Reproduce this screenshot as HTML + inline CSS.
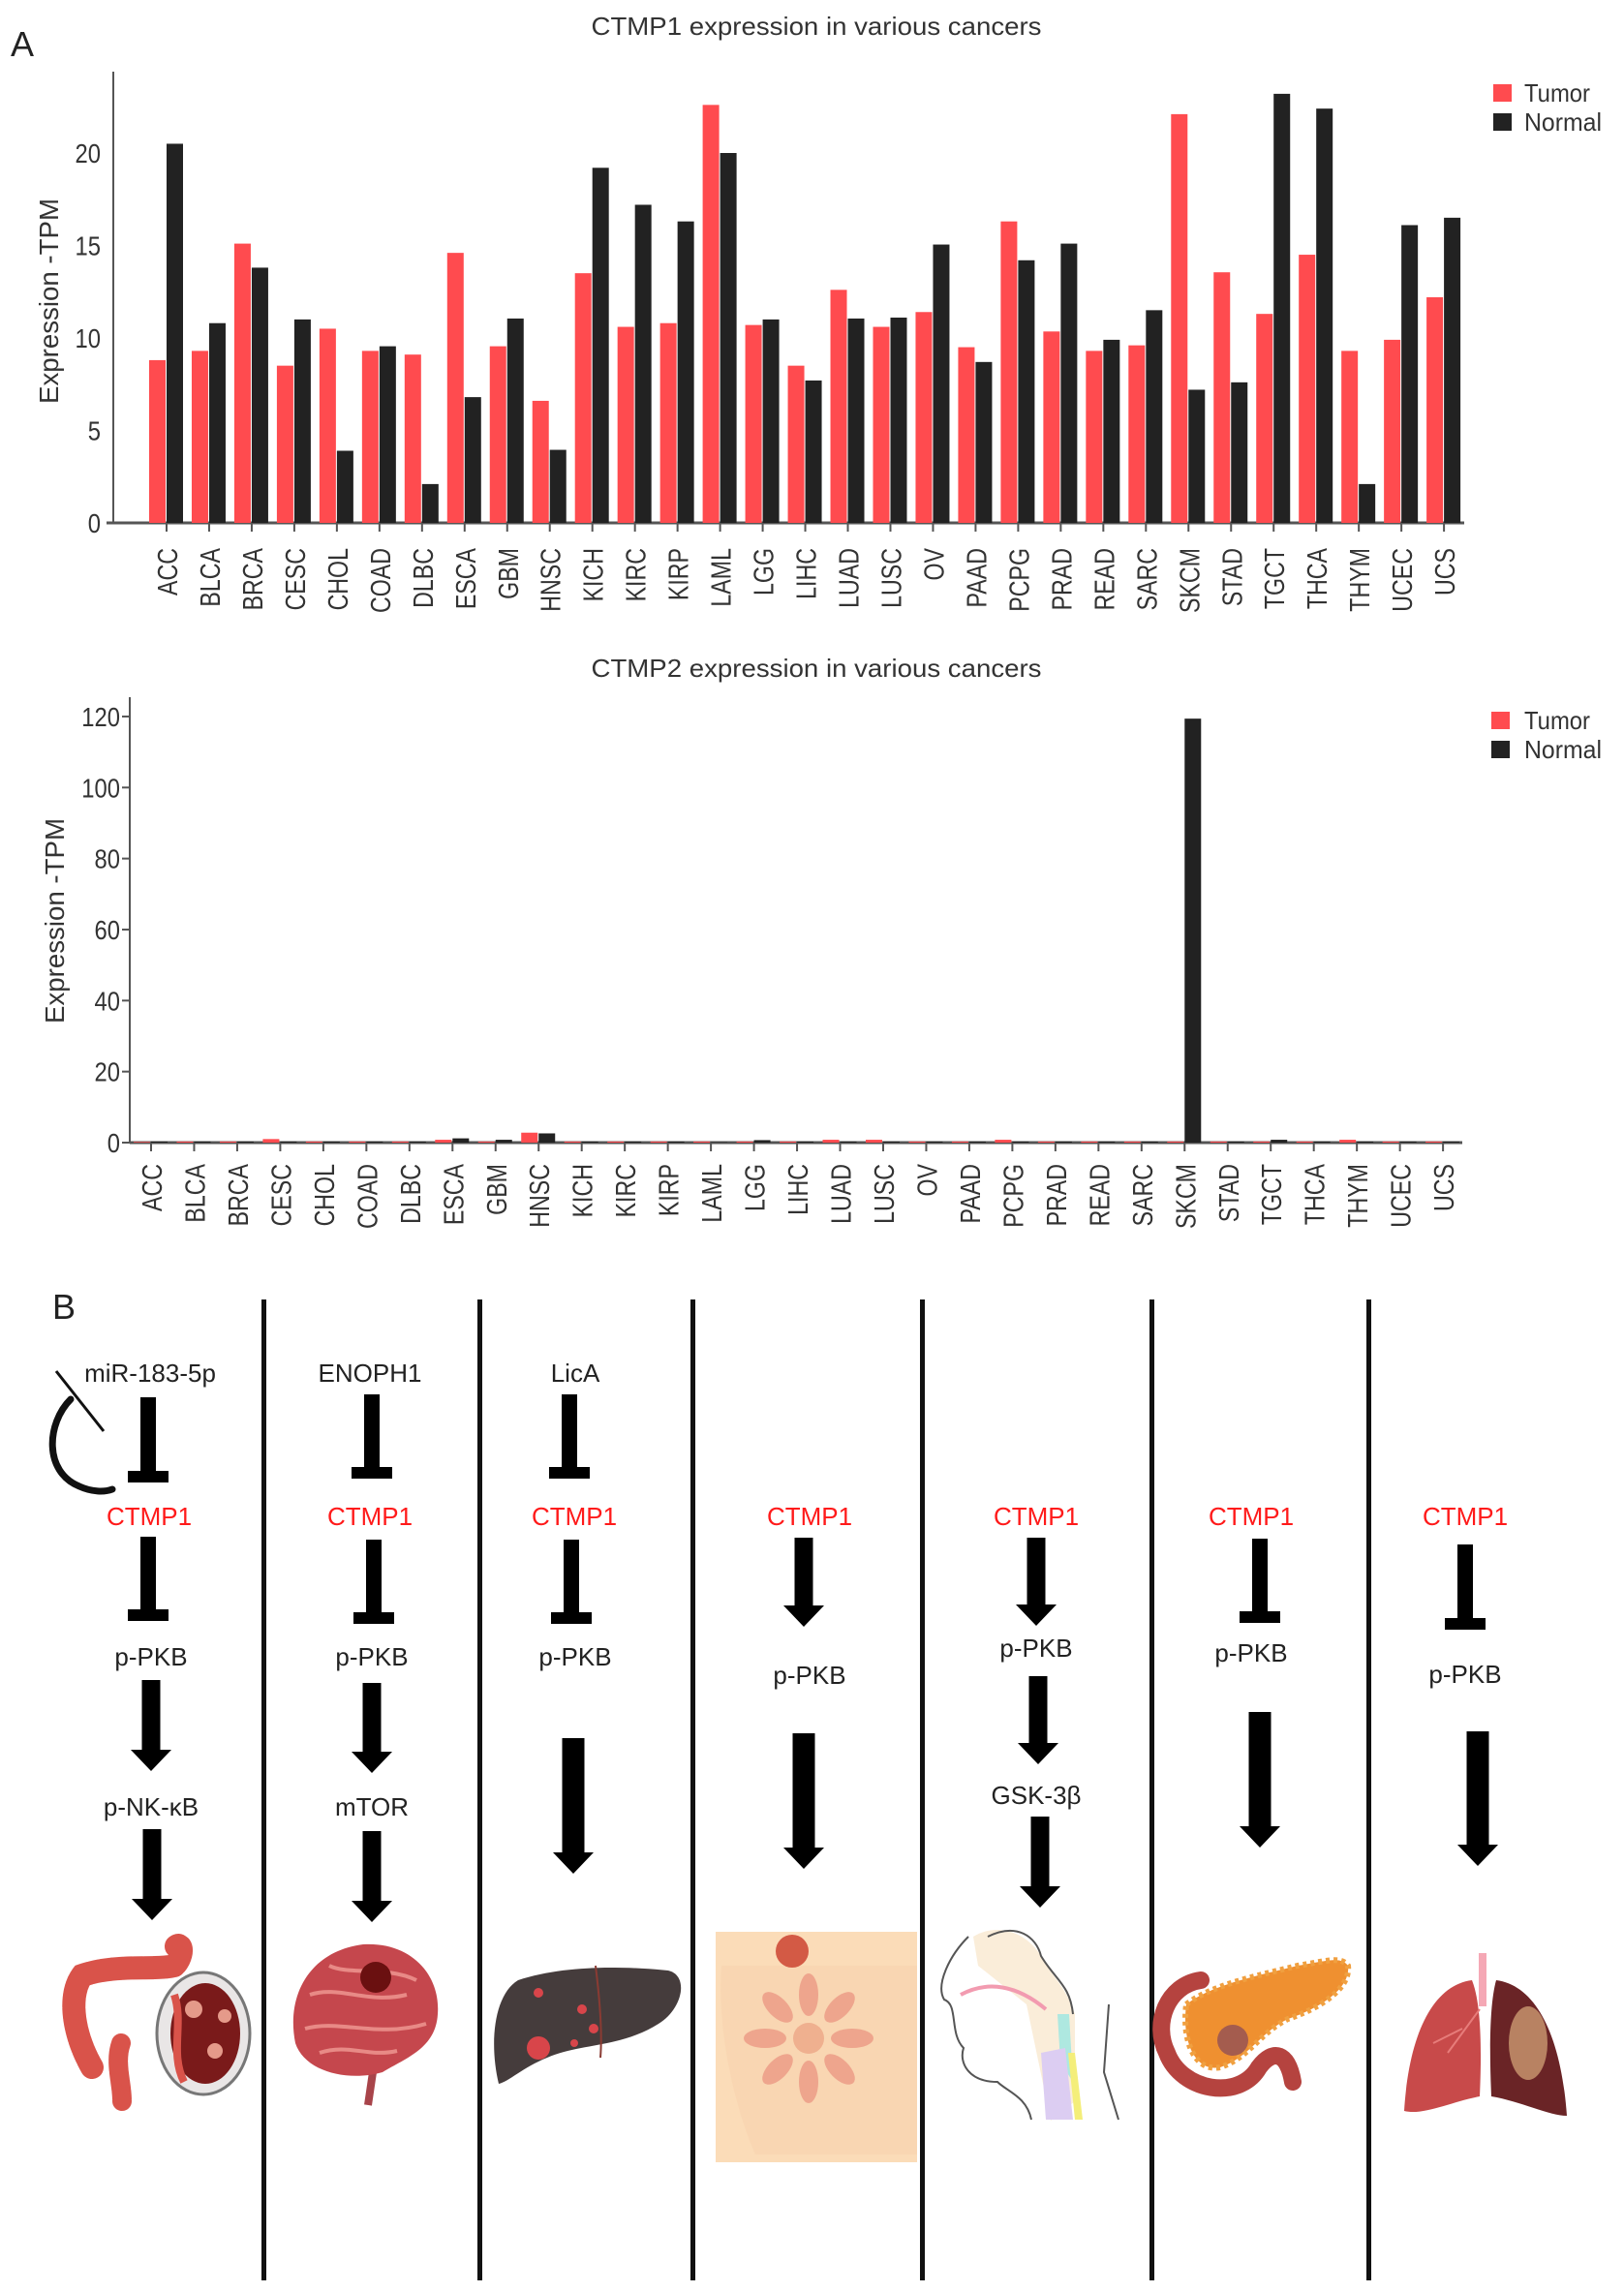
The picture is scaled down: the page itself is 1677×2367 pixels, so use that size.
<!DOCTYPE html>
<html><head><meta charset="utf-8"><style>
html,body{margin:0;padding:0;background:#fff;}
svg{display:block;font-family:"Liberation Sans",Arial,sans-serif;}
</style></head><body>
<svg id="fig" width="1677" height="2367" viewBox="0 0 1677 2367" xmlns="http://www.w3.org/2000/svg">
<rect width="1677" height="2367" fill="#fff"/>
<text x="11" y="58" font-size="36" fill="#222">A</text>
<text x="54" y="1362" font-size="36" fill="#222">B</text>

<g id="c1">
<text x="843" y="36" font-size="26" text-anchor="middle" textLength="465" lengthAdjust="spacingAndGlyphs" fill="#333">CTMP1 expression in various cancers</text>
<text transform="translate(60,311) rotate(-90)" font-size="28" text-anchor="middle" textLength="212" lengthAdjust="spacingAndGlyphs" fill="#333">Expression -TPM</text>
<rect x="1542" y="87" width="19" height="18" fill="#ff4b4f"/>
<text x="1574" y="105" font-size="26" textLength="68" lengthAdjust="spacingAndGlyphs" fill="#333">Tumor</text>
<rect x="1542" y="117" width="19" height="18" fill="#222"/>
<text x="1574" y="135" font-size="26" textLength="80" lengthAdjust="spacingAndGlyphs" fill="#333">Normal</text>
</g>

<g id="c2">
<text x="843" y="699" font-size="26" text-anchor="middle" textLength="465" lengthAdjust="spacingAndGlyphs" fill="#333">CTMP2 expression in various cancers</text>
<text transform="translate(66,951) rotate(-90)" font-size="28" text-anchor="middle" textLength="212" lengthAdjust="spacingAndGlyphs" fill="#333">Expression -TPM</text>
<rect x="1540" y="735" width="19" height="18" fill="#ff4b4f"/>
<text x="1574" y="753" font-size="26" textLength="68" lengthAdjust="spacingAndGlyphs" fill="#333">Tumor</text>
<rect x="1540" y="765" width="19" height="18" fill="#222"/>
<text x="1574" y="783" font-size="26" textLength="80" lengthAdjust="spacingAndGlyphs" fill="#333">Normal</text>
</g>

<g id="panelB">
<g fill="#111">
<rect x="270" y="1342" width="5" height="1013"/>
<rect x="493" y="1342" width="5" height="1013"/>
<rect x="713" y="1342" width="5" height="1013"/>
<rect x="950" y="1342" width="5" height="1013"/>
<rect x="1187" y="1342" width="5" height="1013"/>
<rect x="1411" y="1342" width="5" height="1013"/>
</g>
<path d="M58,1416 L107,1478" stroke="#111" stroke-width="3" fill="none"/>
<path d="M73,1445 C48,1470 45,1520 82,1535 C95,1541 108,1541 116,1538" stroke="#111" stroke-width="7" fill="none" stroke-linecap="round"/>
</g>

<g id="organs">
<g>
<path d="M95,2135 C75,2100 70,2060 85,2040 C120,2028 160,2035 180,2030 C190,2020 188,2005 182,2010" stroke="#d9534a" stroke-width="24" fill="none" stroke-linecap="round" stroke-dasharray="9 2"/>
<path d="M125,2110 C118,2130 126,2150 126,2170" stroke="#d9534a" stroke-width="20" fill="none" stroke-linecap="round" stroke-dasharray="8 2"/>
<ellipse cx="210" cy="2100" rx="48" ry="63" fill="#e9e6e6" stroke="#777" stroke-width="3"/>
<ellipse cx="212" cy="2100" rx="36" ry="52" fill="#7a1a1a"/>
<path d="M180,2060 C190,2090 175,2120 190,2150" stroke="#d9534a" stroke-width="8" fill="none"/>
<circle cx="200" cy="2075" r="9" fill="#e59a8a"/><circle cx="222" cy="2118" r="8" fill="#e59a8a"/><circle cx="232" cy="2082" r="7" fill="#e59a8a"/>
</g>
<g>
<path d="M385,2140 L380,2174" stroke="#a8444a" stroke-width="8"/>
<path d="M305,2110 C295,2060 320,2015 375,2008 C425,2005 455,2040 452,2080 C450,2115 420,2125 395,2140 C360,2150 315,2140 305,2110 Z" fill="#c5474d"/>
<path d="M320,2060 C350,2050 380,2070 420,2060 M315,2095 C350,2085 390,2105 440,2090 M340,2030 C360,2040 400,2030 430,2045 M330,2120 C360,2110 380,2125 410,2118" stroke="#e88a86" stroke-width="4" fill="none"/>
<circle cx="388" cy="2042" r="16" fill="#6a1010"/>
</g>
<g>
<path d="M515,2152 C505,2110 510,2060 535,2045 C580,2030 640,2030 690,2035 C712,2040 705,2075 680,2090 C640,2115 600,2110 565,2125 C540,2135 525,2150 515,2152 Z" fill="#453c3c"/>
<path d="M615,2030 C620,2070 622,2100 620,2125" stroke="#8a3b33" stroke-width="2" fill="none"/>
<circle cx="556" cy="2115" r="12" fill="#d8454a"/><circle cx="556" cy="2058" r="5" fill="#d8454a"/><circle cx="601" cy="2075" r="5" fill="#d8454a"/><circle cx="613" cy="2095" r="5" fill="#d8454a"/><circle cx="593" cy="2110" r="4" fill="#d8454a"/>
</g>
<g>
<rect x="739" y="1995" width="208" height="238" fill="#fbdcb8"/>
<path d="M745,2030 C740,2100 760,2180 780,2225 L947,2225 L947,2030 Z" fill="#f8d2ad" opacity="0.6"/>
<circle cx="835" cy="2105" r="16" fill="#efb08f"/>
<g fill="#eea58d">
<ellipse cx="835" cy="2060" rx="10" ry="22"/><ellipse cx="835" cy="2150" rx="10" ry="22"/>
<ellipse cx="790" cy="2105" rx="22" ry="10"/><ellipse cx="880" cy="2105" rx="22" ry="10"/>
<ellipse cx="803" cy="2073" rx="10" ry="20" transform="rotate(-45 803 2073)"/><ellipse cx="867" cy="2073" rx="10" ry="20" transform="rotate(45 867 2073)"/>
<ellipse cx="803" cy="2137" rx="10" ry="20" transform="rotate(45 803 2137)"/><ellipse cx="867" cy="2137" rx="10" ry="20" transform="rotate(-45 867 2137)"/>
</g>
<circle cx="818" cy="2015" r="17" fill="#d35a45"/>
</g>
<g>
<path d="M1005,2000 C1030,1985 1060,1995 1075,2020 C1085,2040 1100,2050 1110,2080 L1110,2170 L1085,2190 L1060,2070 L1010,2030 Z" fill="#faedd9"/>
<path d="M1092,2080 L1104,2080 L1108,2150 L1095,2130 Z" fill="#aee8e0"/>
<path d="M1075,2120 L1100,2115 L1108,2189 L1080,2189 Z" fill="#dccdf2"/>
<path d="M1103,2120 L1110,2189 L1118,2189 L1110,2120 Z" fill="#f4ee7a"/>
<path d="M1000,2000 C980,2020 966,2050 975,2065 C990,2070 980,2100 995,2115 C990,2130 1000,2150 1030,2150 C1040,2160 1060,2165 1065,2189 M1020,2000 C1050,1985 1070,2000 1075,2020 C1090,2045 1105,2050 1108,2080 M1145,2070 L1140,2140 L1155,2189" stroke="#555" stroke-width="2" fill="none"/>
<path d="M992,2060 C1020,2045 1050,2050 1080,2075" stroke="#f29bb0" stroke-width="4" fill="none"/>
</g>
<g>
<path d="M1240,2045 C1205,2050 1190,2090 1205,2120 C1220,2160 1280,2170 1300,2135 C1315,2115 1330,2120 1335,2150" stroke="#b5433f" stroke-width="18" fill="none" stroke-linecap="round"/>
<path d="M1225,2070 C1250,2050 1300,2040 1340,2030 C1370,2025 1385,2020 1392,2030 C1395,2055 1360,2075 1330,2085 C1300,2100 1290,2125 1260,2135 C1235,2140 1220,2110 1225,2070 Z" fill="#ef9030" stroke="#f0a040" stroke-width="6" stroke-dasharray="4 4"/>
<circle cx="1273" cy="2107" r="16" fill="#a45c4e"/>
</g>
<g>
<rect x="1527" y="2017" width="8" height="55" fill="#f5a8b5"/>
<path d="M1520,2045 C1480,2050 1455,2100 1450,2180 C1470,2185 1500,2170 1528,2165 C1530,2120 1530,2070 1520,2045 Z" fill="#c84a4a"/>
<path d="M1545,2045 C1585,2050 1612,2100 1618,2185 C1600,2185 1570,2170 1540,2165 C1538,2120 1538,2070 1545,2045 Z" fill="#6a2426"/>
<ellipse cx="1578" cy="2110" rx="20" ry="38" fill="#b88262"/>
<path d="M1528,2075 L1495,2120 M1510,2095 L1480,2110" stroke="#e77c7a" stroke-width="2" fill="none"/>
</g>
</g>

<script>
// ---------- data ----------
var categories = ["ACC","BLCA","BRCA","CESC","CHOL","COAD","DLBC","ESCA","GBM","HNSC","KICH","KIRC","KIRP","LAML","LGG","LIHC","LUAD","LUSC","OV","PAAD","PCPG","PRAD","READ","SARC","SKCM","STAD","TGCT","THCA","THYM","UCEC","UCS"];
var ctmp1Tumor  = [8.8,9.3,15.1,8.5,10.5,9.3,9.1,14.6,9.55,6.6,13.5,10.6,10.8,22.6,10.7,8.5,12.6,10.6,11.4,9.5,16.3,10.35,9.3,9.6,22.1,13.55,11.3,14.5,9.3,9.9,12.2];
var ctmp1Normal = [20.5,10.8,13.8,11.0,3.9,9.55,2.1,6.8,11.05,3.95,19.2,17.2,16.3,20.0,11.0,7.7,11.05,11.1,15.05,8.7,14.2,15.1,9.9,11.5,7.2,7.6,23.2,22.4,2.1,16.1,16.5];
var ctmp2Tumor  = [0.2,0.3,0.3,1.0,0.3,0.3,0.3,0.8,0.3,2.8,0.3,0.3,0.3,0.3,0.3,0.3,0.8,0.8,0.3,0.3,0.8,0.3,0.3,0.3,0.3,0.3,0.3,0.3,0.8,0.3,0.3];
var ctmp2Normal = [0.3,0.3,0.3,0.3,0.3,0.3,0.3,1.2,0.8,2.6,0.3,0.3,0.3,0.1,0.7,0.3,0.3,0.3,0.3,0.3,0.3,0.3,0.3,0.3,119.4,0.3,0.8,0.3,0.3,0.3,0.3];
var ctmp1Ticks = [0,5,10,15,20];
var ctmp2Ticks = [0,20,40,60,80,100,120];
// ---------- rendering ----------
var NS="http://www.w3.org/2000/svg";
function mk(parent,tag,attrs){var e=document.createElementNS(NS,tag);for(var k in attrs)e.setAttribute(k,attrs[k]);parent.appendChild(e);return e;}
function drawChart(g,cfg,tumor,normal,ticks,prefix){
  function xs(i){return cfg.x0+i*cfg.step;}
  function ys(v){return cfg.base-v*cfg.ppu;}
  var ax=mk(g,"line",{x1:cfg.axX,y1:cfg.top,x2:cfg.axX,y2:cfg.base,stroke:"#555","stroke-width":2});
  
  
  var bx=mk(g,"line",{x1:cfg.xStart,y1:cfg.base,x2:cfg.xEnd,y2:cfg.base,stroke:"#555","stroke-width":3});
  
  
  ticks.forEach(function(t){
    var y=ys(t);
    if(cfg.ytick){var tk=mk(g,"line",{x1:cfg.axX-8,y1:y,x2:cfg.axX,y2:y,stroke:"#555","stroke-width":2});
      
      }
    var tl=mk(g,"text",{x:cfg.labX,y:y+10,"font-size":28,"text-anchor":"end",fill:"#333",transform:"translate("+cfg.labX+",0) scale(0.85,1) translate("+(-cfg.labX)+",0)"});
    tl.textContent=t;
    
    
  });
  categories.forEach(function(c,i){
    var cx=xs(i);
    var r=mk(g,"rect",{x:cx-18,y:ys(tumor[i]),width:17,height:Math.max(0,cfg.base-ys(tumor[i])),fill:"#ff4b4f"});
    
    
    var b=mk(g,"rect",{x:cx,y:ys(normal[i]),width:17,height:Math.max(0,cfg.base-ys(normal[i])),fill:"#222"});
    
    
    var tk=mk(g,"line",{x1:cx,y1:cfg.base,x2:cx,y2:cfg.base+9,stroke:"#555","stroke-width":2});
    
    
    var lb=mk(g,"text",{"font-size":29,"text-anchor":"end",fill:"#333",transform:"translate("+(cx+11)+","+cfg.labY+") rotate(-90) scale(0.8,1)"});
    lb.textContent=c;
    
    
  });
}
drawChart(document.getElementById("c1"),{x0:172,step:43.97,base:540,ppu:19.1,top:74,axX:117,xStart:110,xEnd:1512,labX:104,labY:566,ytick:false},ctmp1Tumor,ctmp1Normal,ctmp1Ticks,"ctmp1");
drawChart(document.getElementById("c2"),{x0:156,step:44.47,base:1180,ppu:3.667,top:720,axX:134,xStart:134,xEnd:1510,labX:124,labY:1202,ytick:true},ctmp2Tumor,ctmp2Normal,ctmp2Ticks,"ctmp2");

// ---------- pathway panel ----------
var pb=document.getElementById("panelB");
function tbar(cx,y1,y2){
  var g=mk(pb,"g",{fill:"#000"});
  mk(g,"rect",{x:cx-8,y:y1,width:16,height:y2-y1-12});
  mk(g,"rect",{x:cx-21,y:y2-12,width:42,height:12});
  
  
}
function arrow(cx,y1,y2,w){
  w=w||19;var hw=21,hl=22;
  var p=mk(pb,"path",{fill:"#000",d:"M"+(cx-w/2)+","+y1+" L"+(cx+w/2)+","+y1+" L"+(cx+w/2)+","+(y2-hl)+" L"+(cx+hw)+","+(y2-hl)+" L"+cx+","+y2+" L"+(cx-hw)+","+(y2-hl)+" L"+(cx-w/2)+","+(y2-hl)+" Z"});
  
  
}
function label(x,yc,txt,red,name){
  var t=mk(pb,"text",{x:x,y:yc+9,"font-size":26,"text-anchor":"middle",fill:red?"#ff1a1a":"#222"});
  t.textContent=txt;
  
  
}
label(155,1418,"miR-183-5p",false,"mir-183-5p-label");
tbar(153,1443,1531);label(154,1566,"CTMP1",true,"ctmp1-label");
tbar(153,1587,1674);label(156,1711,"p-PKB",false,"p-pkb-label");
arrow(156,1735,1829);label(156,1866,"p-NK-κB",false,"p-nk-kb-label");
arrow(157,1889,1983);
label(382,1418,"ENOPH1",false,"enoph1-label");
tbar(384,1440,1527);label(382,1566,"CTMP1",true,"ctmp1-label");
tbar(386,1590,1677);label(384,1711,"p-PKB",false,"p-pkb-label");
arrow(384,1738,1831);label(384,1866,"mTOR",false,"mtor-label");
arrow(384,1891,1985);
label(594,1418,"LicA",false,"lica-label");
tbar(588,1440,1527);label(593,1566,"CTMP1",true,"ctmp1-label");
tbar(590,1590,1677);label(594,1711,"p-PKB",false,"p-pkb-label");
arrow(592,1795,1935,23);
label(836,1566,"CTMP1",true,"ctmp1-label");
arrow(830,1588,1680);label(836,1730,"p-PKB",false,"p-pkb-label");
arrow(830,1790,1930,23);
label(1070,1566,"CTMP1",true,"ctmp1-label");
arrow(1070,1588,1679);label(1070,1702,"p-PKB",false,"p-pkb-label");
arrow(1072,1731,1822);label(1070,1854,"GSK-3β",false,"gsk-3b-label");
arrow(1074,1876,1970);
label(1292,1566,"CTMP1",true,"ctmp1-label");
tbar(1301,1589,1676);label(1292,1707,"p-PKB",false,"p-pkb-label");
arrow(1301,1768,1908,23);
label(1513,1566,"CTMP1",true,"ctmp1-label");
tbar(1513,1595,1683);label(1513,1729,"p-PKB",false,"p-pkb-label");
arrow(1526,1788,1927,23);
</script>
</svg>
</body></html>
